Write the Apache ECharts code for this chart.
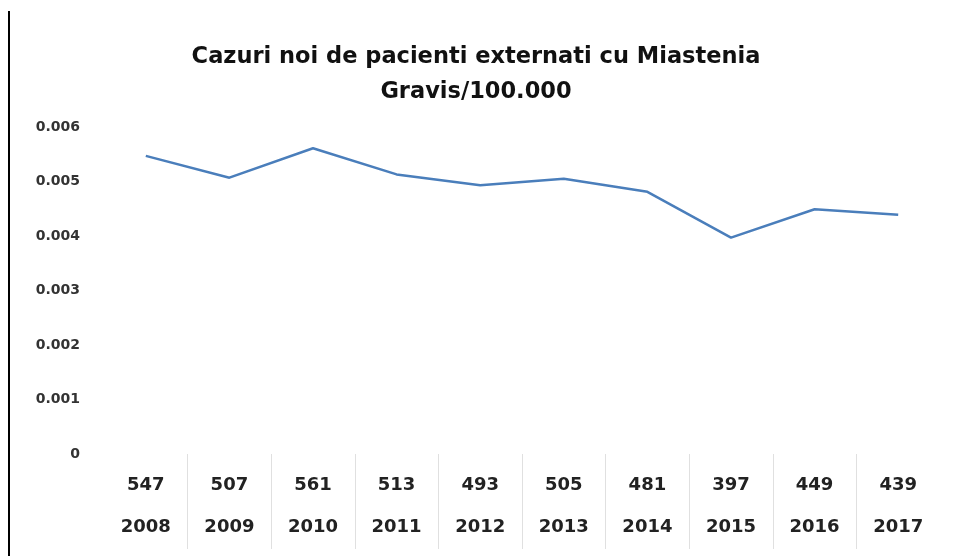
<!DOCTYPE html>
<html>
<head>
<meta charset="utf-8">
<script src="https://cdn.jsdelivr.net/npm/echarts@6/dist/echarts.min.js"></script>
<style>
  html, body { margin: 0; padding: 0; background: #fff; }
  #chart { width: 959px; height: 556px; }
</style>
</head>
<body>
<div id="chart"></div>
<script>
const years = ['2008', '2009', '2010', '2011', '2012', '2013', '2014', '2015', '2016', '2017'];
const cases = ['547', '507', '561', '513', '493', '505', '481', '397', '449', '439'];
const rates = [0.00547, 0.00507, 0.00561, 0.00513, 0.00493, 0.00505, 0.00481, 0.00397, 0.00449, 0.00439];

let myChart = echarts.init(document.getElementById('chart'));
myChart.setOption({
    animation: false,
    title: {
        text: 'Cazuri noi de pacienti externati cu Miastenia\nGravis/100.000',
        left: 471,
        textAlign: 'center',
        top: 35,
        textStyle: {
            fontFamily: 'DejaVu Sans',
            fontSize: 22.5,
            fontWeight: 'bold',
            color: '#111',
            lineHeight: 35
        }
    },
    graphic: [{
        type: 'line',
        shape: { x1: 9, y1: 11, x2: 9, y2: 556 },
        style: { stroke: '#000', lineWidth: 2 }
    }, {
        // hide the tick at the right end, the reference has none there
        type: 'rect',
        z: 100,
        shape: { x: 936, y: 450, width: 10, height: 106 },
        style: { fill: '#fff' }
    }],
    grid: { left: 104, right: 19, top: 127, bottom: 102 },
    xAxis: {
        type: 'category',
        data: years,
        boundaryGap: true,
        axisLine: { show: false },
        axisTick: {
            show: true,
            inside: false,
            length: 95,
            interval: (index) => index > 0,
            lineStyle: { color: '#e0e0e0', width: 1 }
        },
        axisLabel: {
            margin: 10,
            formatter: (value, index) => cases[index] + '\n' + value,
            fontFamily: 'DejaVu Sans',
            fontWeight: 'bold',
            fontSize: 18,
            color: '#222',
            lineHeight: 42
        }
    },
    yAxis: {
        type: 'value',
        min: 0,
        max: 0.006,
        interval: 0.001,
        axisLine: { show: false },
        axisTick: { show: false },
        splitLine: { show: false },
        axisLabel: {
            margin: 24,
            fontFamily: 'DejaVu Sans',
            fontWeight: 'bold',
            fontSize: 14,
            color: '#333'
        }
    },
    series: [{
        type: 'line',
        data: rates,
        showSymbol: false,
        symbol: 'none',
        lineStyle: { color: '#4a7ebb', width: 2.5 }
    }]
});
</script>
</body>
</html>
